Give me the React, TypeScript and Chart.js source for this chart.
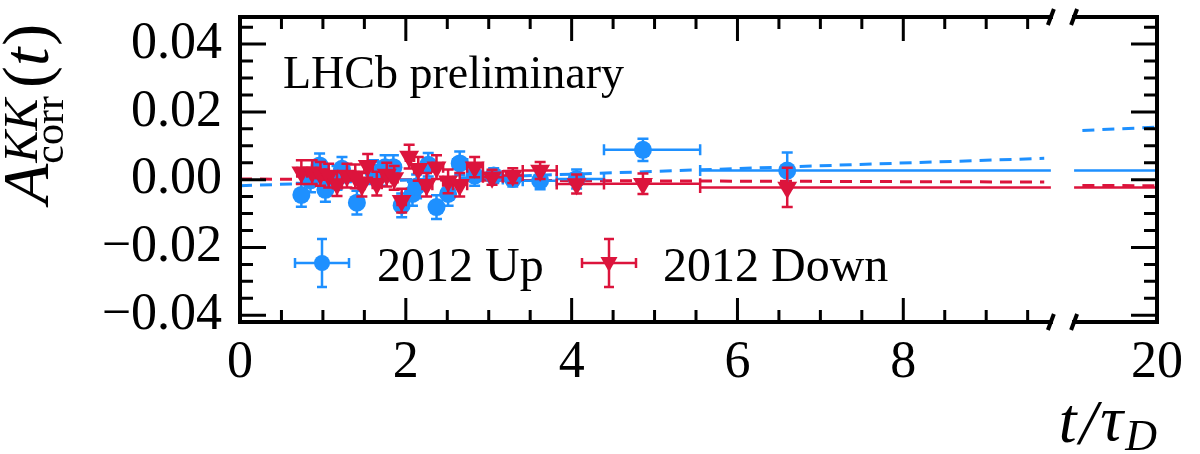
import { useEffect, useRef } from "react"
import { Chart, registerables } from "chart.js"

Chart.register(...registerables)

// broken x axis: 0..BREAK_LO drawn to scale, then BREAK_T..T_MAX squeezed on the right
const BREAK_LO = 9.78
const BREAK_T = 19
const T_MAX = 20
const U_MAX = 11.06
const BREAK_HI = U_MAX - (T_MAX - BREAK_T)
const toAxis = (t: number) => (t <= BREAK_LO ? t : t - T_MAX + U_MAX)

const BLUE = "#1E90FF"
const RED = "#DC143C"
const SERIF = "'Liberation Serif', 'DejaVu Serif', serif"

// 2012 Up
const upT = [0.74, 0.85, 0.96, 1.03, 1.17, 1.23, 1.41, 1.61, 1.7, 1.75, 1.85, 1.95, 2.08, 2.13, 2.27, 2.37, 2.51, 2.65, 2.83, 3.06, 3.29, 3.62, 4.06, 4.86, 6.6]
const upA = [-0.0045, -0.0002, 0.0042, -0.003, 0.0005, 0.0032, -0.0068, 0.0022, 0.0017, 0.0037, 0.0037, -0.0076, -0.0042, -0.002, 0.0044, -0.0081, -0.0042, 0.0048, 0.0012, 0.0012, 0.0002, -0.0003, 0.0002, 0.0088, 0.0027]
const upErr = [0.0035, 0.0035, 0.0035, 0.0035, 0.0035, 0.0035, 0.0035, 0.0035, 0.0035, 0.0035, 0.0035, 0.0035, 0.0035, 0.0035, 0.0035, 0.0035, 0.0035, 0.0035, 0.003, 0.0022, 0.0022, 0.0025, 0.0028, 0.0033, 0.0053]
const upLo = [0.69, 0.8, 0.9, 1.0, 1.09, 1.2, 1.36, 1.56, 1.66, 1.73, 1.8, 1.9, 2.03, 2.11, 2.22, 2.32, 2.45, 2.57, 2.74, 2.93, 3.17, 3.41, 3.82, 4.39, 5.55]
const upHi = [0.8, 0.9, 1.0, 1.09, 1.2, 1.3, 1.46, 1.66, 1.73, 1.8, 1.9, 2.0, 2.11, 2.18, 2.32, 2.43, 2.57, 2.74, 2.93, 3.17, 3.41, 3.82, 4.39, 5.55, 20]

// 2012 Down
const downT = [0.74, 0.87, 0.97, 1.07, 1.17, 1.29, 1.39, 1.47, 1.54, 1.65, 1.77, 1.86, 1.95, 2.04, 2.15, 2.25, 2.37, 2.51, 2.65, 2.83, 3.04, 3.29, 3.62, 4.06, 4.86, 6.6]
const downA = [0.0022, 0.0022, 0.0017, 0.0012, -0.0013, 0.0012, 0.001, -0.0015, 0.0041, -0.0012, 0.0015, 0.0005, -0.0062, 0.0068, 0.0032, -0.0015, 0.0037, -0.0005, -0.0015, 0.0037, 0.0007, 0.0012, 0.0027, -0.0013, -0.0012, -0.0023]
const downErr = [0.0035, 0.0035, 0.0035, 0.0035, 0.0035, 0.0035, 0.0035, 0.0035, 0.0035, 0.0035, 0.0035, 0.0035, 0.0035, 0.0035, 0.0035, 0.0035, 0.0035, 0.0035, 0.0035, 0.003, 0.0022, 0.0022, 0.0025, 0.0028, 0.003, 0.0058]
const downLo = [0.69, 0.81, 0.92, 1.02, 1.12, 1.23, 1.34, 1.43, 1.5, 1.6, 1.71, 1.82, 1.9, 2.0, 2.1, 2.2, 2.32, 2.45, 2.57, 2.74, 2.93, 3.17, 3.41, 3.82, 4.39, 5.55]
const downHi = [0.81, 0.92, 1.02, 1.12, 1.23, 1.34, 1.43, 1.5, 1.6, 1.71, 1.82, 1.9, 2.0, 2.1, 2.2, 2.32, 2.45, 2.57, 2.74, 2.93, 3.17, 3.41, 3.82, 4.39, 5.55, 20]

// fitted curves (dashed), null marks the axis break
const upFitT = [0, 3.86, 7.36, 9.7, 15, 19.1, 20]
const upFitA = [-0.0018, 0.0015, 0.0044, 0.0063, null, 0.0145, 0.0155]
const downFitT = [0, 4, 9.7, 15, 19.1, 20]
const downFitA = [0.0002, -0.0003, -0.0007, null, -0.0017, -0.0018]

const X_TICK_T = [0, 2, 4, 6, 8, 20]
const X_TICK_LABELS = ["0", "2", "4", "6", "8", "20"]
const X_MINOR = [0.5, 1, 1.5, 2.5, 3, 3.5, 4.5, 5, 5.5, 6.5, 7, 7.5, 8.5, 9, 9.5]
const X_MAJOR = [2, 4, 6, 8]
const Y_TICKS = [-0.04, -0.02, 0, 0.02, 0.04]
const Y_TICK_LABELS = ["\u22120.04", "\u22120.02", "0.00", "0.02", "0.04"]
const Y_MINOR = [-0.035, -0.03, -0.025, -0.015, -0.01, -0.005, 0.005, 0.01, 0.015, 0.025, 0.03, 0.035, 0.045]

const toPoints = (t: number[], a: number[], err: number[], lo: number[], hi: number[]) =>
  t.map((tt, i) => ({ x: toAxis(tt), y: a[i], err: err[i], lo: lo[i], hi: hi[i] }))

const errorBars = {
  id: "errorBars",
  beforeDatasetDraw(chart: any, args: any) {
    const ds = chart.data.datasets[args.index]
    if (!ds.errorBars) return
    const { ctx } = chart
    const xs = chart.scales.x
    const ys = chart.scales.y
    const cap = 5.5
    ctx.save()
    ctx.strokeStyle = ds.backgroundColor
    ctx.lineWidth = 2.5
    ctx.beginPath()
    ds.data.forEach((p: any) => {
      const px = xs.getPixelForValue(p.x)
      const py = ys.getPixelForValue(p.y)
      const top = ys.getPixelForValue(p.y + p.err)
      const bot = ys.getPixelForValue(p.y - p.err)
      ctx.moveTo(px, top)
      ctx.lineTo(px, bot)
      ctx.moveTo(px - cap, top)
      ctx.lineTo(px + cap, top)
      ctx.moveTo(px - cap, bot)
      ctx.lineTo(px + cap, bot)
      const x1 = xs.getPixelForValue(toAxis(p.lo))
      const x2 = xs.getPixelForValue(toAxis(p.hi))
      if (p.hi > BREAK_LO) {
        ctx.moveTo(x1, py)
        ctx.lineTo(xs.getPixelForValue(BREAK_LO), py)
        ctx.moveTo(xs.getPixelForValue(BREAK_HI), py)
        ctx.lineTo(x2, py)
      } else {
        ctx.moveTo(x1, py)
        ctx.lineTo(x2, py)
      }
      ctx.moveTo(x1, py - cap)
      ctx.lineTo(x1, py + cap)
      ctx.moveTo(x2, py - cap)
      ctx.lineTo(x2, py + cap)
    })
    ctx.stroke()
    ctx.restore()
  },
}

const frame = {
  id: "frame",
  afterDraw(chart: any) {
    const { ctx, chartArea } = chart
    const { left, right, top, bottom } = chartArea
    const xs = chart.scales.x
    const ys = chart.scales.y
    const b1 = xs.getPixelForValue(BREAK_LO)
    const b2 = xs.getPixelForValue(BREAK_HI)
    ctx.save()
    ctx.strokeStyle = "#000"
    ctx.lineWidth = 4
    ctx.lineCap = "square"
    ctx.beginPath()
    ctx.moveTo(left, top)
    ctx.lineTo(left, bottom)
    ctx.moveTo(right, top)
    ctx.lineTo(right, bottom)
    for (const yy of [top, bottom]) {
      ctx.moveTo(left, yy)
      ctx.lineTo(b1, yy)
      ctx.moveTo(b2, yy)
      ctx.lineTo(right, yy)
    }
    ctx.stroke()
    // break marks
    ctx.lineCap = "butt"
    ctx.beginPath()
    for (const yy of [top, bottom]) {
      for (const bx of [b1, b2]) {
        ctx.moveTo(bx - 3, yy + 8)
        ctx.lineTo(bx + 3, yy - 8)
      }
    }
    ctx.stroke()
    // inward ticks
    ctx.lineWidth = 3
    ctx.beginPath()
    const xTick = (v: number, len: number) => {
      const px = xs.getPixelForValue(v)
      ctx.moveTo(px, bottom)
      ctx.lineTo(px, bottom - len)
      ctx.moveTo(px, top)
      ctx.lineTo(px, top + len)
    }
    const yTick = (v: number, len: number) => {
      const py = ys.getPixelForValue(v)
      ctx.moveTo(left, py)
      ctx.lineTo(left + len, py)
      ctx.moveTo(right, py)
      ctx.lineTo(right - len, py)
    }
    X_MAJOR.forEach((v) => xTick(v, 24))
    X_MINOR.forEach((v) => xTick(v, 12))
    Y_TICKS.forEach((v) => yTick(v, 26))
    Y_MINOR.forEach((v) => yTick(v, 13))
    ctx.stroke()
    ctx.restore()
  },
}

const drawMarker = (ctx: CanvasRenderingContext2D, cx: number, cy: number, color: string, down: boolean) => {
  ctx.save()
  ctx.strokeStyle = color
  ctx.fillStyle = color
  ctx.lineWidth = 2.5
  ctx.beginPath()
  ctx.moveTo(cx - 27, cy)
  ctx.lineTo(cx + 27, cy)
  ctx.moveTo(cx - 27, cy - 5)
  ctx.lineTo(cx - 27, cy + 5)
  ctx.moveTo(cx + 27, cy - 5)
  ctx.lineTo(cx + 27, cy + 5)
  ctx.moveTo(cx, cy - 24)
  ctx.lineTo(cx, cy + 24)
  ctx.moveTo(cx - 5, cy - 24)
  ctx.lineTo(cx + 5, cy - 24)
  ctx.moveTo(cx - 5, cy + 24)
  ctx.lineTo(cx + 5, cy + 24)
  ctx.stroke()
  ctx.beginPath()
  if (down) {
    ctx.moveTo(cx - 8.5, cy - 6)
    ctx.lineTo(cx + 8.5, cy - 6)
    ctx.lineTo(cx, cy + 9)
    ctx.closePath()
  } else {
    ctx.arc(cx, cy, 8, 0, Math.PI * 2)
  }
  ctx.fill()
  ctx.restore()
}

const decor = {
  id: "decor",
  afterDraw(chart: any) {
    const ctx: CanvasRenderingContext2D = chart.ctx
    ctx.save()
    ctx.fillStyle = "#000"
    ctx.textBaseline = "alphabetic"
    ctx.textAlign = "left"

    ctx.font = `46px ${SERIF}`
    ctx.fillText("LHCb preliminary", 283, 88)

    // legend
    drawMarker(ctx, 322, 263, BLUE, false)
    drawMarker(ctx, 609, 263, RED, true)
    ctx.fillStyle = "#000"
    ctx.font = `48px ${SERIF}`
    ctx.fillText("2012 Up", 377, 281)
    ctx.fillText("2012 Down", 663, 281)

    // x title  t/τ_D, right aligned at the plot edge
    const big = `italic 64px ${SERIF}`
    const sub = `italic 44px ${SERIF}`
    ctx.font = big
    const wt = ctx.measureText("t").width
    const ws = ctx.measureText("/").width
    const wtau = ctx.measureText("\u03c4").width
    ctx.font = sub
    const wd = ctx.measureText("D").width
    let x0 = 1157 - (wt + ws + wtau + wd + 8)
    ctx.font = big
    ctx.fillText("t", x0, 442)
    x0 += wt + 3
    ctx.fillText("/", x0, 444)
    x0 += ws + 3
    ctx.fillText("\u03c4", x0, 440)
    x0 += wtau + 2
    ctx.font = sub
    ctx.fillText("D", x0, 450)

    // y title  A^{KK}_{corr}(t), rotated
    ctx.translate(48, 204)
    ctx.rotate(-Math.PI / 2)
    ctx.font = `italic 66px ${SERIF}`
    ctx.fillText("A", 0, 0)
    const wa = ctx.measureText("A").width
    ctx.font = `italic 48px ${SERIF}`
    ctx.fillText("KK", wa + 1, -11)
    const wkk = ctx.measureText("KK").width
    ctx.font = `42px ${SERIF}`
    ctx.fillText("corr", wa, 15)
    const wc = ctx.measureText("corr").width
    let px = wa + Math.max(wkk, wc) + 8
    ctx.font = `66px ${SERIF}`
    ctx.fillText("(", px, 0)
    px += ctx.measureText("(").width
    ctx.font = `italic 66px ${SERIF}`
    ctx.fillText("t", px, 0)
    px += ctx.measureText("t").width + 2
    ctx.font = `66px ${SERIF}`
    ctx.fillText(")", px, 0)
    ctx.restore()
  },
}

export default function App() {
  const canvasRef = useRef<HTMLCanvasElement>(null)

  useEffect(() => {
    document.body.style.margin = "0"
    if (!canvasRef.current) return
    Chart.defaults.font.family = SERIF

    const chart = new Chart(canvasRef.current, {
      type: "scatter",
      data: {
        datasets: [
          {
            label: "2012 Down",
            data: toPoints(downT, downA, downErr, downLo, downHi),
            backgroundColor: RED,
            borderColor: RED,
            pointStyle: "triangle",
            rotation: 180,
            pointRadius: 11.5,
            borderWidth: 0,
            errorBars: true,
          } as any,
          {
            label: "2012 Up",
            data: toPoints(upT, upA, upErr, upLo, upHi),
            backgroundColor: BLUE,
            borderColor: BLUE,
            pointStyle: "circle",
            pointRadius: 9,
            borderWidth: 0,
            errorBars: true,
          } as any,
          {
            type: "line",
            label: "Up fit",
            data: upFitT.map((t, i) => ({ x: toAxis(t), y: upFitA[i] })),
            borderColor: BLUE,
            borderWidth: 3,
            borderDash: [12, 8],
            pointRadius: 0,
            fill: false,
            spanGaps: false,
          } as any,
          {
            type: "line",
            label: "Down fit",
            data: downFitT.map((t, i) => ({ x: toAxis(t), y: downFitA[i] })),
            borderColor: RED,
            borderWidth: 3,
            borderDash: [12, 8],
            pointRadius: 0,
            fill: false,
            spanGaps: false,
          } as any,
        ],
      },
      options: {
        animation: false,
        responsive: true,
        maintainAspectRatio: false,
        layout: { padding: { top: 17, right: 43, left: 0, bottom: 0 } },
        plugins: { legend: { display: false }, tooltip: { enabled: false } },
        scales: {
          x: {
            type: "linear",
            min: 0,
            max: U_MAX,
            grid: { display: false, drawTicks: false },
            border: { display: false },
            afterBuildTicks: (s: any) => {
              s.ticks = X_TICK_T.map((t) => ({ value: toAxis(t) }))
            },
            afterFit: (s: any) => {
              s.height = 132
              s.paddingLeft = 0
              s.paddingRight = 0
            },
            ticks: {
              color: "#000",
              font: { size: 52 },
              padding: 10,
              maxRotation: 0,
              autoSkip: false,
              callback: (_v: any, i: number) => X_TICK_LABELS[i],
            },
          },
          y: {
            type: "linear",
            min: -0.042,
            max: 0.048,
            grid: { display: false, drawTicks: false },
            border: { display: false },
            afterBuildTicks: (s: any) => {
              s.ticks = Y_TICKS.map((v) => ({ value: v }))
            },
            afterFit: (s: any) => {
              s.width = 240
              s.paddingTop = 0
              s.paddingBottom = 0
            },
            ticks: {
              color: "#000",
              font: { size: 52 },
              padding: 18,
              callback: (_v: any, i: number) => Y_TICK_LABELS[i],
            },
          },
        },
      },
      plugins: [errorBars, frame, decor],
    })

    return () => {
      chart.destroy()
    }
  }, [])

  return (
    <div style={{ position: "absolute", left: 0, top: 0, width: 1200, height: 454 }}>
      <canvas ref={canvasRef} />
    </div>
  )
}
